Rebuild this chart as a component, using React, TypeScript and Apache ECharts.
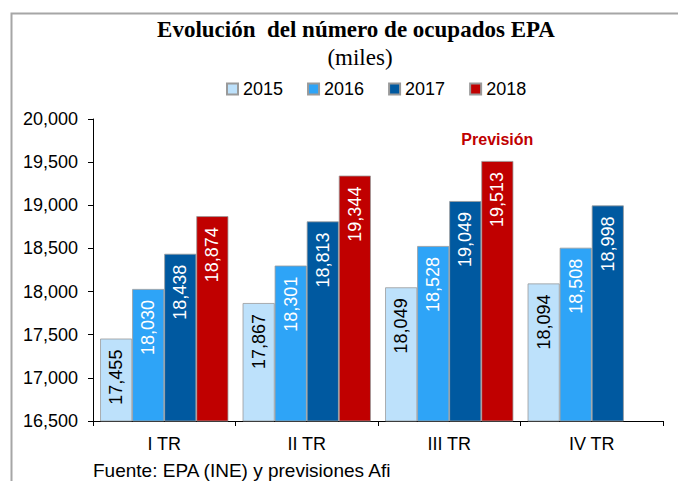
import React, { useEffect, useRef } from "react";
import * as echarts from "echarts";

const categories = ["I TR", "II TR", "III TR", "IV TR"];
const years = ["2015", "2016", "2017", "2018"];
const values2015 = [17455, 17867, 18049, 18094];
const values2016 = [18030, 18301, 18528, 18508];
const values2017 = [18438, 18813, 19049, 18998];
const values2018: (number | null)[] = [18874, 19344, 19513, null];
const colors = ["#BDE1FB", "#2EA4F7", "#0059A0", "#C00000"];
const labelColors = ["#000000", "#FFFFFF", "#FFFFFF", "#FFFFFF"];
const yTicks = { min: 16500, max: 20000, interval: 500 };
const forecastNote = { text: "Previsión", category: "III TR", value: 19513 };

const SANS = "'Liberation Sans', Arial, sans-serif";
const SERIF = "'Liberation Serif', 'Times New Roman', serif";

const fmt = (v: number) => v.toLocaleString("en-US");

export default function App() {
  const ref = useRef<HTMLDivElement>(null);
  useEffect(() => {
    if (!ref.current) return;
    const chart = echarts.init(ref.current, null, { renderer: "svg" });
    const seriesData = [values2015, values2016, values2017, values2018];
    const series: any[] = seriesData.map((d, i) => ({
      name: years[i],
      type: "bar",
      data: d,
      barGap: "0%",
      barCategoryGap: "10%",
      itemStyle: { color: colors[i], borderColor: "#9a9a9a", borderWidth: 0.8 },
      label: {
        show: true,
        position: "insideTop",
        distance: 11,
        rotate: 90,
        align: "right",
        verticalAlign: "middle",
        color: labelColors[i],
        fontFamily: SANS,
        fontSize: 18,
        formatter: (p: any) => fmt(p.value),
      },
    }));
    series[3].markPoint = {
      symbol: "rect",
      symbolSize: 1,
      itemStyle: { color: "rgba(0,0,0,0)" },
      data: [
        {
          coord: [forecastNote.category, forecastNote.value],
          label: {
            show: true,
            position: "top",
            distance: 13,
            formatter: forecastNote.text,
            color: "#C00000",
            fontWeight: "bold",
            fontFamily: SANS,
            fontSize: 16,
          },
        },
      ],
    };
    chart.setOption({
      animation: false,
      title: [
        {
          text: "Evolución  del número de ocupados EPA",
          left: 351,
          top: 13,
          textAlign: "center",
          textStyle: { fontFamily: SERIF, fontWeight: "bold", fontSize: 23, color: "#000" },
        },
        {
          text: "(miles)",
          left: 355,
          top: 41,
          textAlign: "center",
          textStyle: { fontFamily: SERIF, fontWeight: "normal", fontSize: 23, color: "#000" },
        },
        {
          text: "Fuente: EPA (INE) y previsiones Afi",
          left: 88,
          top: 456,
          textStyle: { fontFamily: SANS, fontWeight: "normal", fontSize: 19, color: "#000" },
        },
      ],
      legend: {
        data: years,
        left: 221,
        top: 75,
        icon: "rect",
        itemWidth: 11,
        itemHeight: 11,
        itemGap: 24,
        textStyle: { fontFamily: SANS, fontSize: 18, color: "#000" },
      },
      graphic: [
        {
          type: "rect",
          left: 9,
          top: 11,
          shape: { width: 720, height: 520 },
          style: { fill: "none", stroke: "#a6a6a6", lineWidth: 2 },
          silent: true,
        },
      ],
      grid: { left: 93, right: 15, top: 119, bottom: 60 },
      xAxis: {
        type: "category",
        data: categories,
        axisLine: { show: true, lineStyle: { color: "#000", width: 1 } },
        axisTick: { show: true, length: 5, lineStyle: { color: "#000" } },
        axisLabel: { fontFamily: SANS, fontSize: 18, color: "#000", margin: 14 },
      },
      yAxis: {
        type: "value",
        min: yTicks.min,
        max: yTicks.max,
        interval: yTicks.interval,
        splitLine: { show: false },
        axisLine: { show: true, lineStyle: { color: "#000", width: 1 } },
        axisTick: { show: true, length: 5, lineStyle: { color: "#000" } },
        axisLabel: { fontFamily: SANS, fontSize: 18, color: "#000", margin: 15, formatter: (v: number) => fmt(v) },
      },
      series,
    });
    return () => chart.dispose();
  }, []);
  return (
    <div
      ref={ref}
      style={{ position: "absolute", left: 0, top: 0, width: 678, height: 481, background: "#fff" }}
    />
  );
}
